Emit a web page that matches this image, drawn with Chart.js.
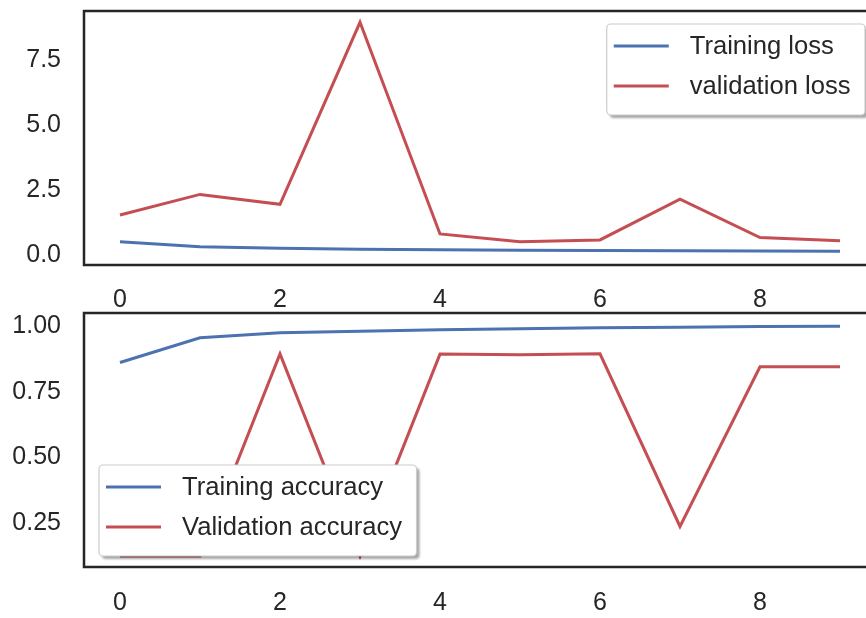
<!DOCTYPE html>
<html>
<head>
<meta charset="utf-8">
<script src="https://cdn.jsdelivr.net/npm/chart.js@4/dist/chart.umd.min.js"></script>
<style>
  html, body { margin: 0; padding: 0; background: #ffffff; }
  #wrap { position: relative; width: 866px; height: 618px; overflow: hidden; background: #ffffff; }
  canvas { position: absolute; left: 0; }
  #lossCanvas { top: 0; }
  #accCanvas { top: 310px; }
</style>
</head>
<body>
<div id="wrap">
  <canvas id="lossCanvas" width="866" height="310"></canvas>
  <canvas id="accCanvas" width="866" height="308"></canvas>
</div>
<script>
// Per-epoch training history
const epochs = [0, 1, 2, 3, 4, 5, 6, 7, 8, 9];
const trainingLoss = [0.51, 0.32, 0.26, 0.22, 0.20, 0.18, 0.17, 0.16, 0.15, 0.14];
const validationLoss = [1.54, 2.33, 1.95, 8.95, 0.81, 0.51, 0.58, 2.15, 0.67, 0.55];
const trainingAccuracy = [0.861, 0.955, 0.974, 0.980, 0.986, 0.990, 0.993, 0.995, 0.998, 0.999];
const validationAccuracy = [0.124, 0.124, 0.894, 0.124, 0.893, 0.891, 0.894, 0.237, 0.845, 0.845];

// Tick positions
const epochTicks = [0, 2, 4, 6, 8];
const lossTicks = [0, 2.5, 5, 7.5];
const accuracyTicks = [0.25, 0.5, 0.75, 1.0];

const INK = '#262626';
const BLUE = '#4C72B0';
const RED = '#C44E52';
const FONT = '"Liberation Sans", Arial, sans-serif';
const FONT_SIZE = 25;
const LEGEND_FONT_SIZE = 25.6;

const points = (ys) => epochs.map((e, i) => ({ x: e, y: ys[i] }));

// Axes frame (left, top, bottom spines) plus a boxed legend with a drop shadow
const frameAndLegend = {
  id: 'frameAndLegend',
  afterDatasetsDraw(chart, args, opts) {
    const { ctx, chartArea: a } = chart;
    ctx.save();
    ctx.strokeStyle = INK;
    ctx.lineWidth = 2.5;
    ctx.beginPath();
    ctx.moveTo(a.right + 5, a.top);
    ctx.lineTo(a.left, a.top);
    ctx.lineTo(a.left, a.bottom);
    ctx.lineTo(a.right + 5, a.bottom);
    ctx.stroke();

    ctx.font = `${LEGEND_FONT_SIZE}px ${FONT}`;
    const items = chart.data.datasets.map(d => ({ label: d.label, color: d.borderColor }));
    const textW = Math.max(...items.map(it => ctx.measureText(it.label).width));
    const padL = 7, lineLen = 55, gap = 21, padR = 14.5, rowH = 40, padTop = 22, padBot = 29;
    const w = padL + lineLen + gap + textW + padR;
    const h = padTop + rowH * (items.length - 1) + padBot;
    let x, y;
    if (opts.corner === 'upper right') {
      x = a.right - opts.dx - w;
      y = a.top + opts.dy;
    } else {
      x = a.left + opts.dx;
      y = a.bottom - opts.dy - h;
    }

    // shadow
    ctx.save();
    ctx.filter = 'blur(1px)';
    ctx.fillStyle = 'rgba(0,0,0,0.35)';
    ctx.beginPath();
    ctx.roundRect(x + 3, y + 3, w, h, 4);
    ctx.fill();
    ctx.restore();

    // box
    ctx.fillStyle = '#ffffff';
    ctx.strokeStyle = '#cccccc';
    ctx.lineWidth = 1.2;
    ctx.beginPath();
    ctx.roundRect(x, y, w, h, 4);
    ctx.fill();
    ctx.stroke();

    // entries
    ctx.textAlign = 'left';
    ctx.textBaseline = 'middle';
    items.forEach((it, i) => {
      const ry = y + padTop + i * rowH;
      ctx.strokeStyle = it.color;
      ctx.lineWidth = 3;
      ctx.beginPath();
      ctx.moveTo(x + padL, ry);
      ctx.lineTo(x + padL + lineLen, ry);
      ctx.stroke();
      ctx.fillStyle = INK;
      ctx.fillText(it.label, x + padL + lineLen + gap, ry + 1);
    });
    ctx.restore();
  }
};

function makeChart(canvasId, cfg) {
  return new Chart(document.getElementById(canvasId), {
    type: 'line',
    data: {
      datasets: cfg.series.map(s => ({
        label: s.label,
        data: points(s.values),
        borderColor: s.color,
        backgroundColor: s.color,
        borderWidth: 3,
        pointRadius: 0,
        tension: 0,
        fill: false
      }))
    },
    plugins: [frameAndLegend],
    options: {
      responsive: false,
      animation: false,
      devicePixelRatio: 1,
      layout: { padding: cfg.padding },
      plugins: {
        legend: { display: false },
        tooltip: { enabled: false },
        frameAndLegend: cfg.legend
      },
      scales: {
        x: {
          type: 'linear',
          min: -0.45,
          max: 9.325,
          grid: { display: false, drawTicks: false },
          border: { display: false },
          ticks: {
            color: INK,
            font: { family: FONT, size: FONT_SIZE },
            padding: cfg.xPad,
            autoSkip: false,
            maxRotation: 0,
            callback: v => String(v)
          },
          afterBuildTicks: s => { s.ticks = epochTicks.map(v => ({ value: v })); },
          afterFit: s => { s.height = cfg.xHeight; s.paddingLeft = 0; s.paddingRight = 0; }
        },
        y: {
          type: 'linear',
          min: cfg.yMin,
          max: cfg.yMax,
          grid: { display: false, drawTicks: false },
          border: { display: false },
          ticks: {
            color: INK,
            font: { family: FONT, size: FONT_SIZE },
            padding: 23,
            autoSkip: false,
            callback: v => v.toFixed(cfg.decimals)
          },
          afterBuildTicks: s => { s.ticks = cfg.yTicks.map(v => ({ value: v })); },
          afterFit: s => { s.width = 84; s.paddingTop = 0; s.paddingBottom = 0; }
        }
      }
    }
  });
}

makeChart('lossCanvas', {
  series: [
    { label: 'Training loss', values: trainingLoss, color: BLUE },
    { label: 'validation loss', values: validationLoss, color: RED }
  ],
  yMin: -0.385, yMax: 9.385, yTicks: lossTicks, decimals: 1,
  padding: { top: 11, left: 0, right: 0, bottom: 0 },
  xHeight: 45,
  xPad: 20,
  legend: { corner: 'upper right', dx: 1, dy: 13 }
});

makeChart('accCanvas', {
  series: [
    { label: 'Training accuracy', values: trainingAccuracy, color: BLUE },
    { label: 'Validation accuracy', values: validationAccuracy, color: RED }
  ],
  yMin: 0.0826, yMax: 1.0495, yTicks: accuracyTicks, decimals: 2,
  padding: { top: 3, left: 0, right: 0, bottom: 0 },
  xHeight: 51,
  xPad: 21,
  legend: { corner: 'lower left', dx: 15, dy: 11 }
});
</script>
</body>
</html>
